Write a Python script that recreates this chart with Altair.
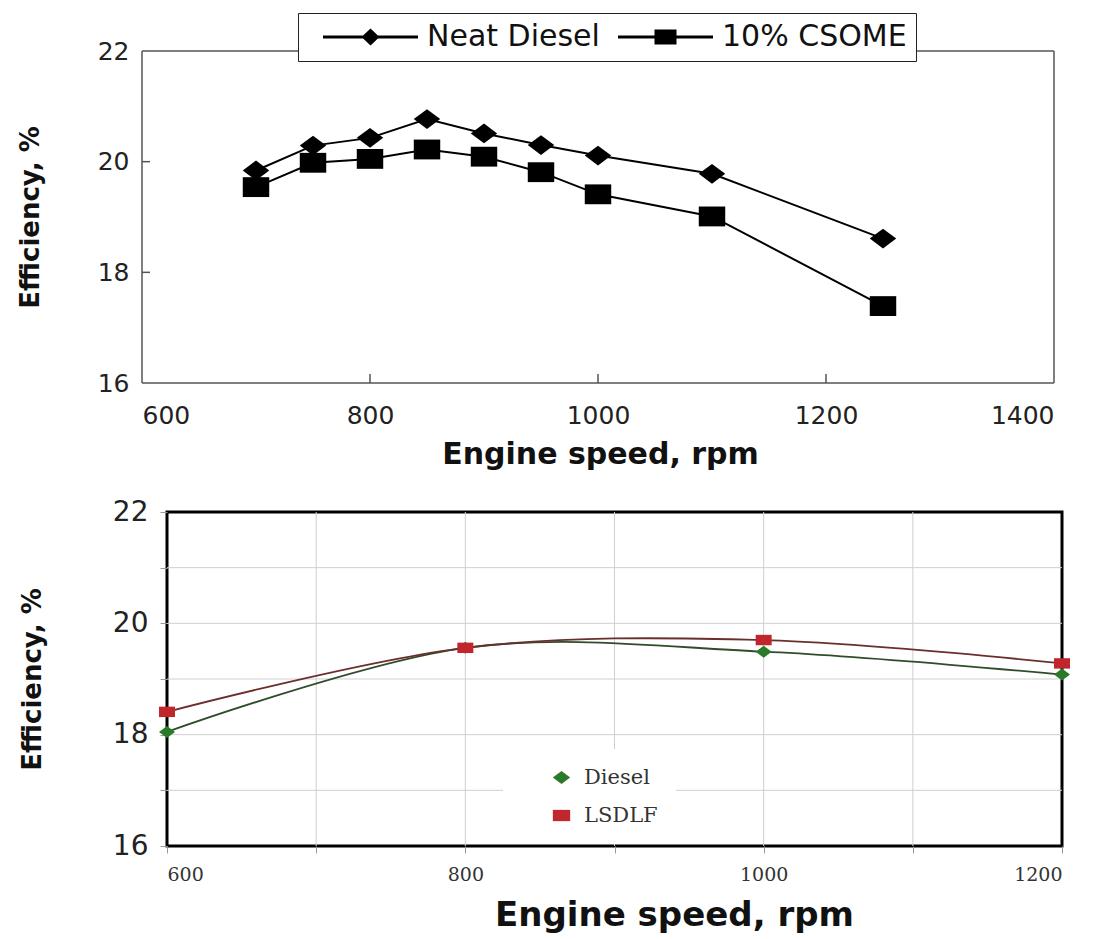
import altair as alt
import pandas as pd

# ---------------- data ----------------
top_rpm = [700, 750, 800, 850, 900, 950, 1000, 1100, 1250]
neat_diesel = [19.84, 20.29, 20.43, 20.77, 20.51, 20.30, 20.11, 19.78, 18.61]
csome_10 = [19.54, 19.98, 20.05, 20.22, 20.09, 19.81, 19.41, 19.01, 17.39]
top_series = ["Neat Diesel", "10% CSOME"]
top_x_ticks = [600, 800, 1000, 1200, 1400]
top_y_ticks = [16, 18, 20, 22]
top_x_domain = [600, 1400]
top_y_domain = [16, 22]

bot_rpm = [600, 800, 1000, 1200]
diesel = [18.05, 19.56, 19.49, 19.08]
lsdlf = [18.41, 19.56, 19.70, 19.28]
bot_series = ["Diesel", "LSDLF"]
bot_x_ticks = [600, 700, 800, 900, 1000, 1100, 1200]
bot_y_ticks = [16, 16.5, 17, 17.5, 18, 18.5, 19, 19.5, 20, 20.5, 21, 21.5, 22]
bot_x_grid = [700, 800, 900, 1000, 1100]
bot_y_grid = [17, 18, 19, 20, 21]

# ---------------- tables ----------------
top_df = pd.DataFrame({
    "rpm": top_rpm * 2,
    "eff": neat_diesel + csome_10,
    "series": [top_series[0]] * len(top_rpm) + [top_series[1]] * len(top_rpm),
})
bot_df = pd.DataFrame({
    "rpm": bot_rpm * 2,
    "eff": diesel + lsdlf,
    "series": [bot_series[0]] * len(bot_rpm) + [bot_series[1]] * len(bot_rpm),
})

SANS = "DejaVu Sans"
SHIFT = 25                    # top plot starts 25px left of the bottom plot
W1, H1 = 887, 332             # top group width (plot spans -SHIFT..W1)
W2, H2 = 895, 334

# stretched marker shapes (the source image is horizontally stretched)
DIAMOND = "M-1,0L0,-0.75L1,0L0,0.75Z"
SQUARE = "M-1,-0.75L1,-0.75L1,0.75L-1,0.75Z"
SQUARE_B = "M-1,-0.65L1,-0.65L1,0.65L-1,0.65Z"
# legend symbols: line with marker, drawn mostly to the left of the symbol centre
LEG_DIAMOND = ("M-8.5,-0.15L-4.49,-0.15L-3.75,-0.85L-3.01,-0.15L1,-0.15L1,0.15"
               "L-3.01,0.15L-3.75,0.85L-4.49,0.15L-8.5,0.15Z")
LEG_SQUARE = ("M-8.5,-0.15L-4.85,-0.15L-4.85,-0.75L-2.65,-0.75L-2.65,-0.15"
              "L1,-0.15L1,0.15L-2.65,0.15L-2.65,0.75L-4.85,0.75L-4.85,0.15"
              "L-8.5,0.15Z")

# ---------------- top chart ----------------
xs1 = alt.Scale(domain=top_x_domain, nice=False, range=[-SHIFT, W1])
ys1 = alt.Scale(domain=top_y_domain, nice=False)

x1 = alt.X("rpm:Q", scale=xs1, axis=alt.Axis(
    values=top_x_ticks, ticks=False, domain=False, grid=False, format="d",
    labelFont=SANS, labelFontSize=25, labelColor="#222", labelPadding=20,
    title="Engine speed, rpm", titleFont=SANS, titleFontSize=30,
    titleFontWeight="bold", titleColor="#111", titlePadding=11,
    titleX=433))
y1 = alt.Y("eff:Q", scale=ys1, axis=alt.Axis(
    values=top_y_ticks, ticks=False, domain=False, grid=False, format="d",
    offset=SHIFT,
    labelFont=SANS, labelFontSize=25, labelColor="#222", labelPadding=13,
    title="Efficiency, %", titleFont=SANS, titleFontSize=26,
    titleFontWeight="bold", titleColor="#111", titleX=-112,
    titleBaseline="middle"))

# plot frame drawn at the domain limits
frame_v = alt.Chart(pd.DataFrame({"rpm": top_x_domain})).mark_rule(
    color="#555", strokeWidth=1.5).encode(
    x=x1, y=alt.value(0), y2=alt.value(H1))
frame_h = alt.Chart(pd.DataFrame({"eff": top_y_domain})).mark_rule(
    color="#555", strokeWidth=1.5).encode(
    y=y1, x=alt.value(-SHIFT), x2=alt.value(W1))

top_lines = alt.Chart(top_df).mark_line(color="black", strokeWidth=2).encode(
    x="rpm:Q", y="eff:Q", detail="series:N")
top_points = alt.Chart(top_df).mark_point(
    filled=True, color="black", opacity=1, size=700).encode(
    x="rpm:Q", y="eff:Q",
    shape=alt.Shape("series:N", scale=alt.Scale(domain=top_series,
                                                 range=[DIAMOND, SQUARE]),
                    legend=None))
top_legend = alt.Chart(top_df).mark_point(
    filled=True, color="black", opacity=0).encode(
    x="rpm:Q", y="eff:Q",
    shape=alt.Shape("series:N",
                    scale=alt.Scale(domain=top_series,
                                    range=[LEG_DIAMOND, LEG_SQUARE]),
                    legend=alt.Legend(
                        title=None, orient="none", legendX=131, legendY=-38,
                        direction="horizontal", fillColor="white",
                        strokeColor="#222", padding=9, symbolSize=400,
                        symbolOffset=86, symbolOpacity=1,
                        symbolFillColor="black", symbolStrokeWidth=0,
                        labelFont=SANS, labelFontSize=30, labelColor="#111",
                        labelOffset=4, columnPadding=2, labelLimit=400)))

x_tick_rule = alt.Chart(pd.DataFrame({"rpm": top_x_ticks[1:-1]})).mark_rule(
    color="#555", strokeWidth=1.5).encode(
    x="rpm:Q", y=alt.value(H1), y2=alt.value(H1 - 9))
y_tick_rule = alt.Chart(pd.DataFrame({"eff": top_y_ticks[1:-1]})).mark_rule(
    color="#555", strokeWidth=1.5).encode(
    y="eff:Q", x=alt.value(-SHIFT), x2=alt.value(-SHIFT + 8))

top = alt.layer(frame_v, frame_h, top_lines, x_tick_rule, y_tick_rule,
                top_points, top_legend).resolve_scale(
    shape="independent").properties(
    width=W1, height=H1, view=alt.ViewBackground(strokeWidth=0))

# ---------------- bottom chart ----------------
xs2 = alt.Scale(domain=[600, 1200], nice=False)
ys2 = alt.Scale(domain=[16, 22], nice=False)

x2 = alt.X("rpm:Q", scale=xs2, axis=alt.Axis(
    values=bot_x_ticks, grid=False, domain=False, format="d",
    labelExpr="datum.value % 200 == 0 ? datum.label : ''",
    labelFlush=True, labelFont="DejaVu Serif", labelFontSize=19,
    labelColor="#333", labelPadding=12, tickSize=7, tickColor="#999",
    title="Engine speed, rpm", titleFont=SANS, titleFontSize=34,
    titleFontWeight="bold", titleColor="#111", titleX=507, titlePadding=14))
y2 = alt.Y("eff:Q", scale=ys2, axis=alt.Axis(
    values=bot_y_ticks, grid=False, domain=False, format="d",
    labelExpr="datum.value % 2 == 0 ? datum.label : ''",
    labelFont=SANS, labelFontSize=28, labelColor="#222", labelPadding=12,
    tickSize=7, tickColor="#999",
    title="Efficiency, %", titleFont=SANS, titleFontSize=26,
    titleFontWeight="bold", titleColor="#111", titleX=-135,
    titleBaseline="middle"))

vgrid = alt.Chart(pd.DataFrame({"rpm": bot_x_grid})).mark_rule(
    color="#cfcfcf", strokeWidth=1).encode(
    x=x2, y=alt.value(0), y2=alt.value(H2))
hgrid = alt.Chart(pd.DataFrame({"eff": bot_y_grid})).mark_rule(
    color="#cfcfcf", strokeWidth=1).encode(
    y=y2, x=alt.value(0), x2=alt.value(W2))

line_colors = {"Diesel": "#2f4d2a", "LSDLF": "#6a2f2c"}
bot_line_layers = [
    alt.Chart(bot_df).transform_filter(alt.datum.series == s).mark_line(
        interpolate="cardinal", strokeWidth=1.8, color=line_colors[s]).encode(
        x="rpm:Q", y="eff:Q")
    for s in bot_series
]

bot_legend = alt.Legend(
    title=None, orient="none", legendX=336, legendY=237,
    direction="vertical", fillColor="white", padding=18,
    symbolOffset=30, symbolSize=300, symbolStrokeWidth=0,
    labelFont="DejaVu Serif", labelFontSize=21, labelColor="#333",
    labelOffset=12, rowPadding=16, labelLimit=300)

bot_points = alt.Chart(bot_df).mark_point(
    filled=True, size=256, opacity=1).encode(
    x="rpm:Q", y="eff:Q",
    fill=alt.Fill("series:N", scale=alt.Scale(
        domain=bot_series, range=["#2a7a2a", "#c0262c"]), legend=bot_legend),
    shape=alt.Shape("series:N", scale=alt.Scale(
        domain=bot_series, range=[DIAMOND, SQUARE_B]), legend=bot_legend))

bottom = alt.layer(vgrid, hgrid, *bot_line_layers, bot_points).properties(
    width=W2, height=H2,
    view=alt.ViewBackground(stroke="black", strokeWidth=3))

chart = alt.vconcat(top, bottom, spacing=27).resolve_scale(
    shape="independent", fill="independent").properties(
    padding={"left": 17, "top": 12, "right": 5, "bottom": 5},
    background="white",
)

chart.save("out.html", embed_options={"renderer": "svg", "actions": False})
